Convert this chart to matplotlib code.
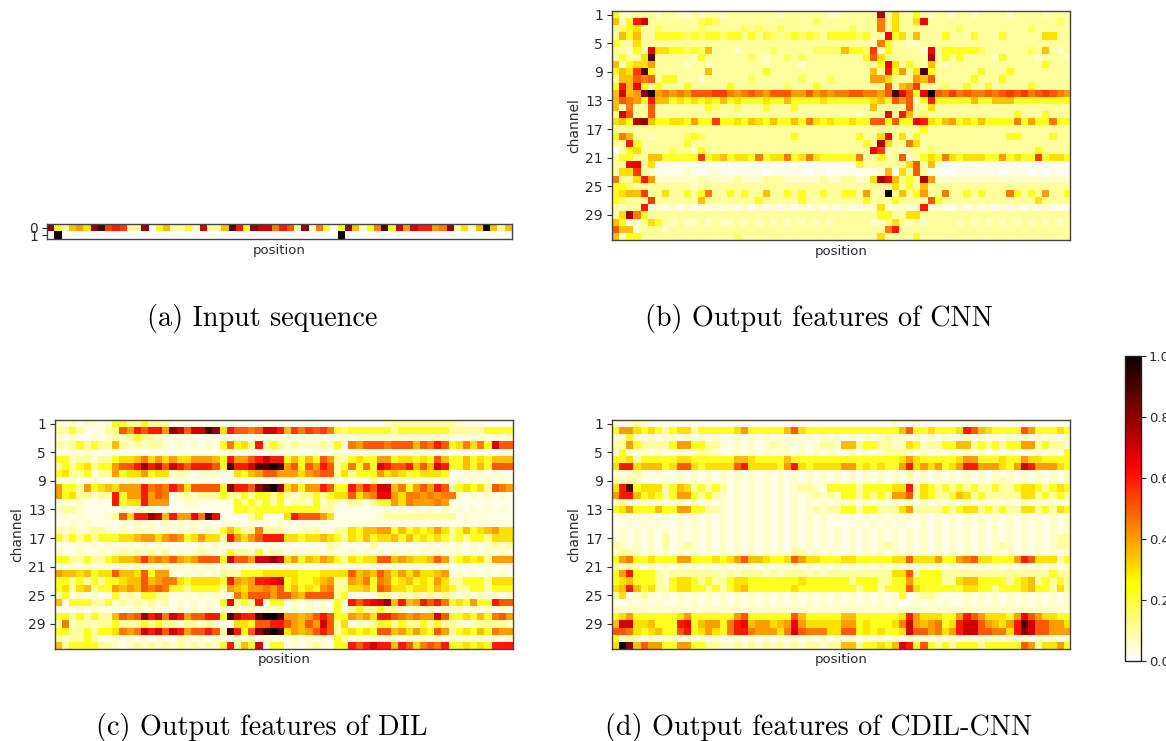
import numpy as np
import matplotlib
matplotlib.use("Agg")
import matplotlib.pyplot as plt
from matplotlib.cm import ScalarMappable
from matplotlib.colors import Normalize

W, H = 1166, 741
LEVELS = {'0':0,'a':.025,'1':.055,'b':.10,'2':.16,'c':.22,'3':.3,'d':.35,'4':.4,'e':.45,'5':.5,
          'f':.55,'6':.6,'g':.65,'7':.7,'h':.75,'8':.8,'9':.9,'X':1.0}

input_rows = [
 '8cbd4389f6fbb80c dbbc17bbd96c877e 65b81ec0c8d1ce9c 747664e8b31dXdbd',
 '0X00000000000000 0000000000000000 00000000X0000000 0000000000000000',
]
cnn_rows = [
 'c11bbb1bb11b1bb1 bbbbbbb1bbbbbb11 bbbbbhb3bbcb1bb1 bb1bbbb1bbbb1bbb',
 'd1c67bbbbbbb2c2b bbbbbbbbbbbb2bbb bbbbbeb3bb3gbbbb bbbbbbbbbbbbbb2b',
 'b2c3bb2bbbbb2bbb bb2b2bb2bbbbbbbb b2bbbeb3bbbbbbbb 2bbbbbbbbb2bbbbb',
 'bdcdbbcccc2c2cc2 ccbcbc2b2c2c2bcc cc2cbbgc3bdbbbcb bbcbbbcbbbbb33bb',
 'cbb3bbbbbbbbbbbb bbbbbbbbbbbbbbbb bbbb1ecbb11bbbbb bbbbbbbbbbbbbbbb',
 'bb1cbg33cc2c2dbb b1bbbb2bbbbb2222 dcc2f1cbbbb1gbcc ccc2bbbbbb2bdb1b',
 'bcbb39bbbbb1cbbb bbb2b1bb2b2bbbbb bbbc53bbbbbbhbcb cbbbb1cbbbb1bbb1',
 'd1c334bbbb1bb1bb bbbbb1bbbb1bbbbb bbbbbcg3bcbbdb1b bbbbbbbbbbbbcbbb',
 'cd3f9cbbbbbbbdbb bbbbbcbbbbbbbbbb bbbbdb6c4b39cbbb bbbcbbbcbbbbbbbb',
 'bdd5e5bccbbb1bbb bbb2bbbbbb2bbb2b bbbb443bbb4d5bbb bbcbbbcbbbbbbbbb',
 'c6dgcbcbbbcbbbbb cbbbbbbb2bbbcbbb bbbbbb5bd4fbbb2b bcbbcbbbbbcbbbbb',
 'd7d48X4e4e4555ff e4e5e45554454e4e e55ee459g5cgX5ef e5ee5e5f5fe5f5e4',
 'd5e4c6ddc3c3c3cd c3ccc3ccdcccc3cc cccc3dc5451c6ccc ccdccdddcccccccc',
 'd1ebb5bbbbbbbc2b b2bbbcbbbcbbbbbb bbbbdbbbb5bb3bbb bbbbbbbbbbbbbbbb',
 'b75bb5bbbbbbbbbb bbbbbbbbbbbbbbbb bb1bbbgb6db2bbbb bbbbbbbbcbbbcbbb',
 '3dch8dcc33c4ccfc c3cd3cdccdce3c3c c3cc55c5ccg63cd4 c3cdccccec4ccecc',
 'bbbbbbbbbbbbbbbb bbbbbbbbbbbbbbbb bbbbbbbbbbbcbbbb bbbbbbbbbbbbbbbb',
 'cedbb1bbbb2c2bbb bbbbbbbbbcbbbbbb bbcbb3gb31cbbbbb bbbbbbbccbbbbcbb',
 'bb6cbbbbbbcbbbbb bbbbbbbbbbbbbbbb bbbcbh3bbe3bbbbb bbbbbbbbbbbbbbbb',
 '0bc3bbbb2bb1cbbb bbbbbbbbbbbbbbbb bbbbgf1b1bbb2bbb bbbbbbbbbbbcbbbb',
 'bccbbddcccccfc3d c33cec33ec3e3ccc ccebbcbb51bc3ce3 c333cc4c3ccfc33c',
 'bbggb3aaaaaaaaaa aaaaaaaaaaaaaaaa aacbbbbbb35bd1aa aaaaaaaaaaaaaaaa',
 'b33fb1aaaa1a0a1a aaaaa0aaaaa0aa0a aa0aa1da3b5baa00 aaaaaa0aaa0a0aaa',
 'ebb364111111b111 1b111bbb11111b11 bb113hgdbcbh4111 1111111111111111',
 'cc2bbbbbbbb1bbbb bbbbbbbbbbbbbbbb bbbbbbb3bcbdbbbb bbbbbbbbbbbbbbbb',
 'c3ddfbb3bbcbcebb cbcbbdbbcbcbbcbb ccb4bbXbdbc4bbeb bcbcbbbecbcb4bbc',
 'c2bbbfbbbbbbdbbb bbbbcbbbbbcbbbbb bbbcbbbcbbbb5cbb bbbbbbbbbbb3bbbb',
 'b1bb6a1a1a1a1a1a 1a1a1a1a1a1a1a1a 1aa11311111611aa 1a1a1a1a1a1a1aaa',
 'b3hecbbbbbbbbbbb bbbbbbbbbbbbbbbb bbbbbccbb33bbbbb bbbbbbbbbbbbbbbb',
 'dc11b3cb1b11b1b1 1b1b1b1b1b1b1b1b bbbb11b3b1b1bbbb 1b1b1b1b1b1b1b1b',
 '5dd1bbb1bbbbbbbb bbbbbbbbbbbbbbbb bbbbbbe6bbbbbbbb bbbbbbbbbbbbbbbb',
 'd1ccbbbbbbbbbbbb b2bbbbbbbbbbbbbb bbbbb3bbbbcbbbbb bbbbbbbbbbbbbbbb',
]
dil_rows = [
 '1a1a11a1ccbbcbbb aaaaaaaaaaaaaaaa aaaaaaaaaaaaaa1b bbbbbbbb1aaaaaaa',
 'bbcbaaabb5465664 87577983655e5776 dfef5fec2ccccccb cccccccbbbbbcccc',
 '1a1aa1a1b1bcbb1a aaaaaaaaaaaaaaaa aaaaaaaa1a111111 11111111a1a1a1a1',
 'b1bcbcbbdb1b1bb1 a1a1a1acec3b6bcb 1b111b1cae4555e5 55d5e65c3e3ec755',
 'aa1a1aaaaaaaaaaa aaaaaaaa1aaaaaaa aaaaaaa1aaaaaaaa aaaaaaaaaaaaaaaa',
 'cc1bb1bbc33de343 433444dc64456766 cdcdc54bbc3cc44c 33c3c5dccdc3cddd',
 'bcbc3bcc45568675 7656665c966799X9 45c5465bcecec765 56d5d76ccdcdc555',
 'c3bbcabb4c334c33 1b1a111aa3cd4554 4434e55b3bccc43d 3cc333caa1a1a1aa',
 'aa1aa1aaaa1aaaaa aaaaaaaaaaaaaaaa aaaaaaaaaaaabaaa 1a1a1a1a1a1a1a1a',
 '4ccb4c3d3444 6e5e 6535555c86658 9X8 34c4465cc6e6577d ec45465bc3c3b5e4',
 '4c3bb1bb6c446 45e a1b1bbbcbbcbccbc b1bbcbc3353 4egg4 3ee4e4ee1a1a1a1a',
 'a1a1aaaa6c336444 aa11aaaaacbcbcbc abb1c1b1abbabcc4 3e444e4aaaaaaaaa',
 '1bb1aaaaa1a1a1aa aaaaaaaaacc2cccc cccccbbaaaaaaa1a 1a1a1a1a1a1a1a1a',
 'a1a1aaa1b536687d 644ge9gaaaabcaaa 36555 4 3aaaaaa1bb bbbbbbbba1a1aaaa',
 'aa1a1aaaa1a1a1a1 a1a1aaaaaaa1a1a1 aaaaaaaaaaaaaaaa aaaaaaaaaaaaaaaa',
 'b1b11bb1a1a111a1 a1a1a1acdcbbebbb aa11baabb3cdd44c dc3c343bcdc3d433',
 'cbcbcbccc33d4434 e4c3433b64345666 33c33d3cb3cdc33d cdc3c3cbcbccb333',
 'aaa1a1a1aa1a1a1a aaaa1a1aaaaaaaaa aaaaaab1aaaabaaa aaaa1a1a1a1a1b1b',
 '1aa1aa1a1b1b1b1b a1a1b1a1cbb1c1b1 a1a11a1aa1a1a1a1 a1a1a1a11a1a1a1a',
 'ccbbcbbc3dd4f4e4 54d4555c75547787 34cd34dcb3c3355d 4d33d54bc3c3b444',
 'aa1a1a1aa1a1a1a1 a1a1a1a1aaaaaaaa aaaaaaaaaaaaaaaa aaaaaaaaaaaaaaaa',
 '4dd3dc335dd35c44 1a1a1a1bbbccc333 33ccc33335d4d543 43433d4a1a1a1a1a',
 'ccbcbcbcc3dd5d4e e3c3333c64d466g7 c3cc3d4bb4dece4c 3dc3c43bbcccb333',
 'c3b3dbcc4d4d5e5e ccbccccb4d344e45 cdc3c4ebb33dc5e3 3c33cd3cbbccbccc',
 'bca1a1aac1b1ccbb aa1a1a1aaed55545 54d5555bcaaaabba b1b1b1b1a1a1a1a1',
 'dacccbbc1b1b1b1b a1a1a1acgbcb6acc a1a1a1aca656g78d 6d4656ec3c4cc655',
 'aaa1a1aaaaa1a1aa a1a1a1a1a1a1a1a1 a1a1a1ac1bcbbcbb 1a1a1a1a1a1a1a1a',
 'ccbcbcbbd5e5867e 7645566c97669XX9 44d4565cc4d43665 e4e4475cc3cdce54',
 'be1bb1bbcbbbcbcb b1bb1b1aa33c5566 54d5475b3a11bccb cbbcbcbb1a1bbbb1',
 'ccbbcbcc3e4e7675 7645565b96c589X9 34d4565bc3c3c55d 4343c54bc3cdce44',
 'b1bbcbaa1a1a1a1a ab1a1a1aa1a1a1a1 a1a1a1acba1a1a1a a1a1a1a1a1a1a1a1',
 'dbccccbb1a1b1b1b 1b1b1b1c6bdc7acc a1a1b1acc656766d 653e5e6cc3c3c666',
]
cdil_rows = [
 '1a1b1aaaaaaaaaaa aaaaaaaaaaaaaaaa aaaaaaa1aa1aaaaa aaaaaaaaaaaaaaaa',
 'c443c3cbc33bcccc c34cccccd53ccccc ccccccccd5cc3ccc 365d3cccc54ccc3c',
 '11c1a1a11a1a1a1a a1a1a1a1a1a1a1a1 a1a1a1b11a1a1a1a a1a1a1a1a1a1a1a1',
 'bb4cbbbbc44ccbb1 a1a1a1b11a1a1bb1 ddbccbb113c1bbcc ddbcbcbcc44bcbb1',
 '1c1a1a1aa1a1bb1a a1a1a1a11a1a1a1a a1a1a1bbb1a1a1a1 a1a1a1a1aaa1a1ac',
 'cc3bccccc33ccccc cdd3ccccdccccccc cccccccc343ccccc 344ccc3cc433cccc',
 '3663dddc3553c333 3563333c463c3333 44c3c3cc463434c3 4664443c4764443c',
 '1a1b1a1aa1a1a1a1 a1a1a1a1a1a1a1a1 a1a1a1a1aba1a1a1 a1a1a1a1a1a1a1a1',
 'b1b1aaa1a1a1a1a1 a1a1a1a1a1a1a1a1 a1a1a1a1a1a1a1a1 a1a1a1b1a1a1a1a1',
 '369c333bcd3bcbcb a1a1a1a1a1bb1acc ccbcccc336b3cbcb cbcbbcbbc33cbc3c',
 '466dc3cbc44cbcb1 a1a1a1a1a1a1b1b1 ccbcbcb445b3cbbc d3bcbbbbb33bcbcb',
 '1b1a1a1aa1a1a1a1 a1a1a1a1a1a1a1a1 a1a1a1a1a1a1a1a1 a1a1a1a1a1a1a1a1',
 'c34cccdcc44ccbb1 a1a1a1a1a1a1b1bb ccbccbbb34bbbbcb c33bcbcbb33bcb3c',
 'a1a1a1a1a1a1a1a1 a1a1a1a1a1a1a1a1 a1a1a1a1a1a1a1a1 a1a1a1a1a1a1a1a1',
 'aa1a1a1aa1a1a1a1 a1a1a1a1a1a1a1aa aa1a1a1a1aa1a1a1 a1a1a1a1a1a1a1a1',
 'a1a1a1a1a1a1a1a1 a1a1a1a1a1a1a1a1 a1a1a1a1a1a1a1a1 a1a1a1a1a1a1a1a1',
 'a1a1a1aba1a1a1a1 a1a1a1a1a1a1a1a1 a1a1a1a1a1a1a1a1 a1a1a1a1a1a1a1bb',
 'b1a1a1aba1b1a1a1 a1a1a1a1a1a1a1a1 a1a1a1b1a1a1a1a1 a1a1a1b1a1a1a1bb',
 '1bb1a1a1a1a1a1a1 a1a1a1a1abba1a1a a1a1a1a1a1a1a1a1 a1a1a1a1a1a1a1a1',
 'c4ecc3ccc44ccc3c 345dd3cc35433ccc 33ccccc335333 4cc 4e533ccc465333bc',
 'b1b1a1a1a1a1a1a1 a1a1a1a1a1a1a1a1 a1a1a1a1a1a1a1a1 a1a1a1a1a1a1a1a1',
 'c46cccb1bbbbbbb1 b1bbb1b1bbb1b1bb bbbbbbb335bcccbb bbbbbbbbbbbbbcbb',
 'c3dcccb1c33cbcbb c33ccccccc3ccccc cbcccbbcc4ccccbb 3ddccccbc3dbcbcb',
 '3d6dc3bbc33ccbcb c3dccccc c3cccccc ccbccbccc53ccccc c33ccbccc3dccb3b',
 'b3a1b1a1a1a1a1a1 a1a1a1a1a1a1a1a1 a1a1a1a1ca1bb1aa a1a1a1a1a1a1a1a1',
 'a01a1a1aa1a1a1a1 a1a1a1a1a1a1a1a1 a1a1a1a10a1a1a1a a1a1a1a1a1a1a1a1',
 '1111111111111111 1111111111111111 1111111111111111 1111111111111111',
 'c34ccccc c34ccccc c45cccccc5dccccc ddcccccc364333cc 465 4333c4g5433cc',
 'd7733dccc6gcd44c e6gd443d4g433333 44c3ccc3e74d4ec3 67754d3469755443',
 '55e3c3dcc56c343c e66e4443e75eee33 55c3c3cc37554e34 67755ee368755444',
 'c1b1a1a11a1a1a1a a1a1a1a1a1a1a1a1 a1a1a1a1a1a1a1a1 a1a1a1a1a1a1a1a1',
 '3X8d544cc44ccbb1 1b1b1b1b1b1bb1bb ddbcc3cd76c5cbcb cccbccccc54b334c',
]
y_ticks_channel = [1, 5, 9, 13, 17, 21, 25, 29]
cbar_ticks = [0.0, 0.2, 0.4, 0.6, 0.8, 1.0]
captions = ['(a) Input sequence', '(b) Output features of CNN',
            '(c) Output features of DIL', '(d) Output features of CDIL-CNN']


def parse(rows):
    out = []
    for i, r in enumerate(rows):
        r = r.replace(' ', '')
        if len(r) != 64:
            print('row', i, 'len', len(r))
        r = (r + r[-1] * 64)[:64]
        out.append([LEVELS[c] for c in r])
    return np.array(out)


INK = '#2b2b2b'
plt.rcParams.update({'font.family': 'DejaVu Sans', 'font.size': 10,
                     'text.color': INK, 'axes.labelcolor': INK,
                     'xtick.color': INK, 'ytick.color': INK,
                     'axes.edgecolor': '#444444', 'axes.linewidth': 1.0})
fig = plt.figure(figsize=(W / 100, H / 100), dpi=100)


def pix_axes(x0, y0, x1, y1):
    return fig.add_axes([x0 / W, 1 - y1 / H, (x1 - x0) / W, (y1 - y0) / H])


def panel(rows, box, ylabels):
    ax = pix_axes(*box)
    ax.imshow(parse(rows), cmap='hot_r', vmin=0, vmax=1, aspect='auto', interpolation='nearest')
    ax.set_xticks([])
    if ylabels is None:
        ax.set_yticks([0, 1], ['0', '1'])
    else:
        ax.set_yticks([v - 1 for v in ylabels], [str(v) for v in ylabels])
        ax.set_ylabel('channel', labelpad=3)
    ax.tick_params(axis='y', length=3.5, width=0.8, pad=3)
    return ax


boxes = [(47, 224, 512, 239), (612, 11, 1070, 240), (55, 420, 513, 649), (612, 420, 1070, 649)]
data = [input_rows, cnn_rows, dil_rows, cdil_rows]
labels = [None, y_ticks_channel, y_ticks_channel, y_ticks_channel]
for rows, box, lab in zip(data, boxes, labels):
    panel(rows, box, lab)
    fig.text((box[0] + box[2]) / 2 / W, 1 - (box[3] + 11) / H, 'position', ha='center', va='center', fontsize=9.5)

cap_pos = [(262, 318), (819, 318), (262, 728), (819, 728)]
for (x, y), s in zip(cap_pos, captions):
    fig.text(x / W, 1 - y / H, s, ha='center', va='center', fontsize=20.3, color='black',
             family=['cmr10', 'DejaVu Serif'])

cax = pix_axes(1125, 356, 1141, 661)
cb = fig.colorbar(ScalarMappable(Normalize(0, 1), 'hot_r'), cax=cax, ticks=cbar_ticks)
cb.ax.tick_params(length=3.5, width=0.8, pad=2, labelsize=9.5)
cb.outline.set_edgecolor('#222222')

fig.savefig('out.png', dpi=100)
